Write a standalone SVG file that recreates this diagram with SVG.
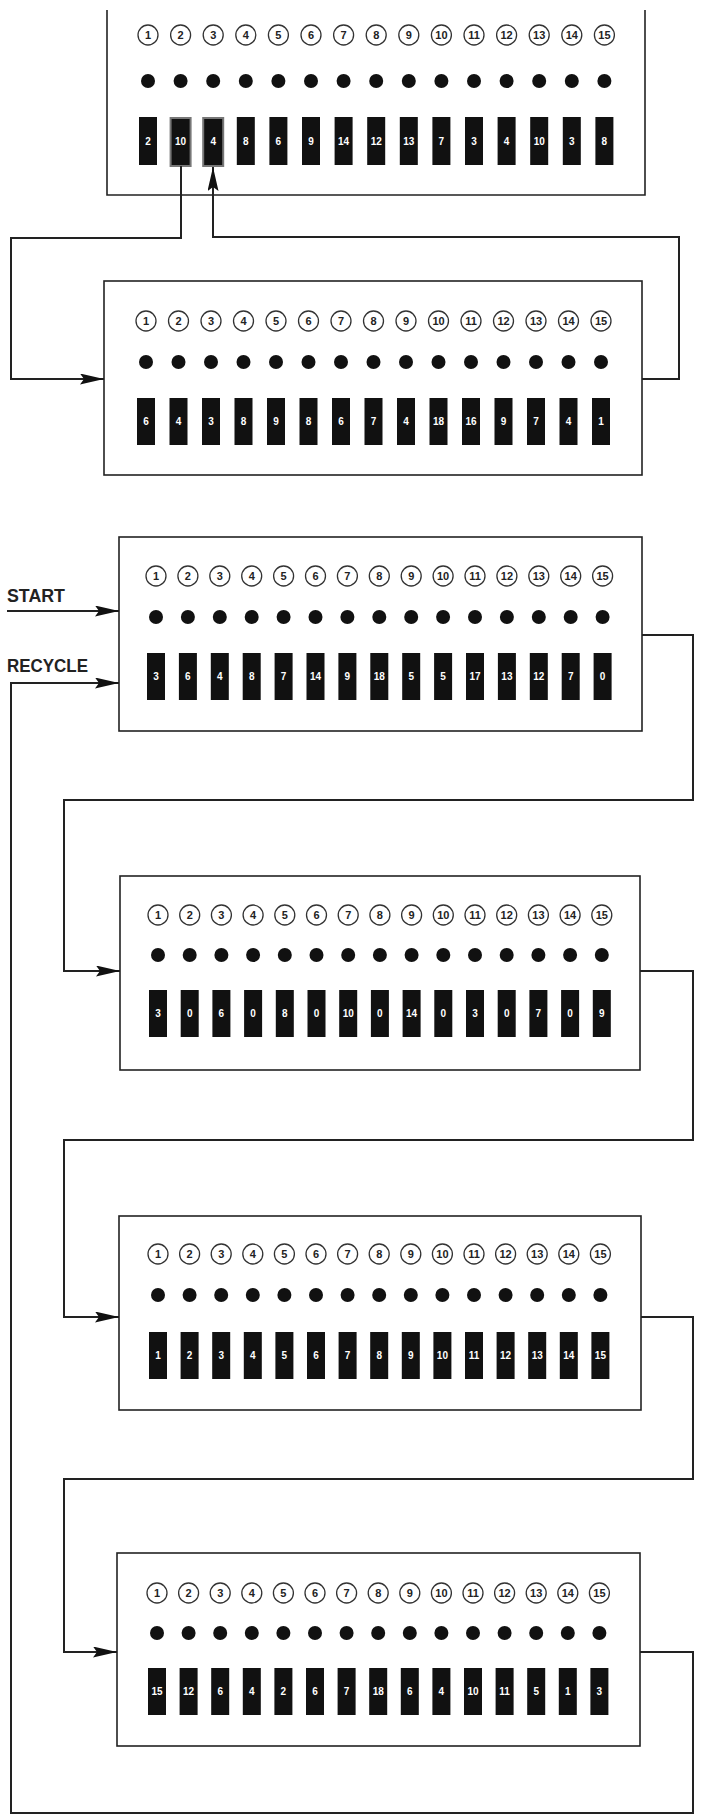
<svg xmlns="http://www.w3.org/2000/svg" width="701" height="1815" viewBox="0 0 701 1815">
<style>
.box{fill:#fff;stroke:#222;stroke-width:1.6}
.open{fill:none;stroke:#222;stroke-width:1.6}
.c{fill:#fff;stroke:#333;stroke-width:1.3}
.d{fill:#111}
.k{fill:#111}
.hl{fill:#111;stroke:#777;stroke-width:2}
.n{font-family:"Liberation Sans Narrow","Liberation Sans",sans-serif;font-size:11px;font-weight:bold;fill:#222;text-anchor:middle}
.v{font-family:"Liberation Sans Narrow","Liberation Sans",sans-serif;font-size:10px;font-weight:bold;fill:#fff;text-anchor:middle}
.lbl{font-family:"Liberation Sans",sans-serif;font-size:18px;font-weight:bold;fill:#222}
.w{fill:none;stroke:#222;stroke-width:2}
</style>
<defs>
<marker id="ah" markerUnits="userSpaceOnUse" markerWidth="24" markerHeight="11" refX="24" refY="5.5" orient="auto">
<path d="M0,0 L24,5.5 L0,11 L4,5.5 z" fill="#111"/>
</marker>
</defs>
<rect width="701" height="1815" fill="#fff"/>

<g id="labels">
<text class="lbl" x="7" y="602" textLength="58" lengthAdjust="spacingAndGlyphs">START</text>
<text class="lbl" x="7" y="672" textLength="81" lengthAdjust="spacingAndGlyphs">RECYCLE</text>
</g>

<g id="node1">
<path class="open" d="M107,10 V195 H645 V10"/>
<g transform="translate(148 0)"><circle class="c" cy="35" r="10"/><text class="n" y="39">1</text><circle class="d" cy="81" r="7"/><rect class="k" x="-9" y="117" width="18" height="48"/><text class="v" y="145">2</text></g>
<g transform="translate(180.6 0)"><circle class="c" cy="35" r="10"/><text class="n" y="39">2</text><circle class="d" cy="81" r="7"/><rect class="hl" x="-10" y="118" width="20" height="48"/><text class="v" y="145">10</text></g>
<g transform="translate(213.2 0)"><circle class="c" cy="35" r="10"/><text class="n" y="39">3</text><circle class="d" cy="81" r="7"/><rect class="hl" x="-10" y="118" width="20" height="48"/><text class="v" y="145">4</text></g>
<g transform="translate(245.8 0)"><circle class="c" cy="35" r="10"/><text class="n" y="39">4</text><circle class="d" cy="81" r="7"/><rect class="k" x="-9" y="117" width="18" height="48"/><text class="v" y="145">8</text></g>
<g transform="translate(278.4 0)"><circle class="c" cy="35" r="10"/><text class="n" y="39">5</text><circle class="d" cy="81" r="7"/><rect class="k" x="-9" y="117" width="18" height="48"/><text class="v" y="145">6</text></g>
<g transform="translate(311 0)"><circle class="c" cy="35" r="10"/><text class="n" y="39">6</text><circle class="d" cy="81" r="7"/><rect class="k" x="-9" y="117" width="18" height="48"/><text class="v" y="145">9</text></g>
<g transform="translate(343.6 0)"><circle class="c" cy="35" r="10"/><text class="n" y="39">7</text><circle class="d" cy="81" r="7"/><rect class="k" x="-9" y="117" width="18" height="48"/><text class="v" y="145">14</text></g>
<g transform="translate(376.2 0)"><circle class="c" cy="35" r="10"/><text class="n" y="39">8</text><circle class="d" cy="81" r="7"/><rect class="k" x="-9" y="117" width="18" height="48"/><text class="v" y="145">12</text></g>
<g transform="translate(408.8 0)"><circle class="c" cy="35" r="10"/><text class="n" y="39">9</text><circle class="d" cy="81" r="7"/><rect class="k" x="-9" y="117" width="18" height="48"/><text class="v" y="145">13</text></g>
<g transform="translate(441.4 0)"><circle class="c" cy="35" r="10"/><text class="n" y="39">10</text><circle class="d" cy="81" r="7"/><rect class="k" x="-9" y="117" width="18" height="48"/><text class="v" y="145">7</text></g>
<g transform="translate(474 0)"><circle class="c" cy="35" r="10"/><text class="n" y="39">11</text><circle class="d" cy="81" r="7"/><rect class="k" x="-9" y="117" width="18" height="48"/><text class="v" y="145">3</text></g>
<g transform="translate(506.6 0)"><circle class="c" cy="35" r="10"/><text class="n" y="39">12</text><circle class="d" cy="81" r="7"/><rect class="k" x="-9" y="117" width="18" height="48"/><text class="v" y="145">4</text></g>
<g transform="translate(539.2 0)"><circle class="c" cy="35" r="10"/><text class="n" y="39">13</text><circle class="d" cy="81" r="7"/><rect class="k" x="-9" y="117" width="18" height="48"/><text class="v" y="145">10</text></g>
<g transform="translate(571.8 0)"><circle class="c" cy="35" r="10"/><text class="n" y="39">14</text><circle class="d" cy="81" r="7"/><rect class="k" x="-9" y="117" width="18" height="48"/><text class="v" y="145">3</text></g>
<g transform="translate(604.4 0)"><circle class="c" cy="35" r="10"/><text class="n" y="39">15</text><circle class="d" cy="81" r="7"/><rect class="k" x="-9" y="117" width="18" height="48"/><text class="v" y="145">8</text></g>
</g>

<g id="node2">
<rect class="box" x="104" y="281" width="538" height="194"/>
<g transform="translate(146 0)"><circle class="c" cy="321" r="10"/><text class="n" y="325">1</text><circle class="d" cy="362" r="7"/><rect class="k" x="-9" y="398" width="18" height="47"/><text class="v" y="425">6</text></g>
<g transform="translate(178.5 0)"><circle class="c" cy="321" r="10"/><text class="n" y="325">2</text><circle class="d" cy="362" r="7"/><rect class="k" x="-9" y="398" width="18" height="47"/><text class="v" y="425">4</text></g>
<g transform="translate(211 0)"><circle class="c" cy="321" r="10"/><text class="n" y="325">3</text><circle class="d" cy="362" r="7"/><rect class="k" x="-9" y="398" width="18" height="47"/><text class="v" y="425">3</text></g>
<g transform="translate(243.5 0)"><circle class="c" cy="321" r="10"/><text class="n" y="325">4</text><circle class="d" cy="362" r="7"/><rect class="k" x="-9" y="398" width="18" height="47"/><text class="v" y="425">8</text></g>
<g transform="translate(276 0)"><circle class="c" cy="321" r="10"/><text class="n" y="325">5</text><circle class="d" cy="362" r="7"/><rect class="k" x="-9" y="398" width="18" height="47"/><text class="v" y="425">9</text></g>
<g transform="translate(308.5 0)"><circle class="c" cy="321" r="10"/><text class="n" y="325">6</text><circle class="d" cy="362" r="7"/><rect class="k" x="-9" y="398" width="18" height="47"/><text class="v" y="425">8</text></g>
<g transform="translate(341 0)"><circle class="c" cy="321" r="10"/><text class="n" y="325">7</text><circle class="d" cy="362" r="7"/><rect class="k" x="-9" y="398" width="18" height="47"/><text class="v" y="425">6</text></g>
<g transform="translate(373.5 0)"><circle class="c" cy="321" r="10"/><text class="n" y="325">8</text><circle class="d" cy="362" r="7"/><rect class="k" x="-9" y="398" width="18" height="47"/><text class="v" y="425">7</text></g>
<g transform="translate(406 0)"><circle class="c" cy="321" r="10"/><text class="n" y="325">9</text><circle class="d" cy="362" r="7"/><rect class="k" x="-9" y="398" width="18" height="47"/><text class="v" y="425">4</text></g>
<g transform="translate(438.5 0)"><circle class="c" cy="321" r="10"/><text class="n" y="325">10</text><circle class="d" cy="362" r="7"/><rect class="k" x="-9" y="398" width="18" height="47"/><text class="v" y="425">18</text></g>
<g transform="translate(471 0)"><circle class="c" cy="321" r="10"/><text class="n" y="325">11</text><circle class="d" cy="362" r="7"/><rect class="k" x="-9" y="398" width="18" height="47"/><text class="v" y="425">16</text></g>
<g transform="translate(503.5 0)"><circle class="c" cy="321" r="10"/><text class="n" y="325">12</text><circle class="d" cy="362" r="7"/><rect class="k" x="-9" y="398" width="18" height="47"/><text class="v" y="425">9</text></g>
<g transform="translate(536 0)"><circle class="c" cy="321" r="10"/><text class="n" y="325">13</text><circle class="d" cy="362" r="7"/><rect class="k" x="-9" y="398" width="18" height="47"/><text class="v" y="425">7</text></g>
<g transform="translate(568.5 0)"><circle class="c" cy="321" r="10"/><text class="n" y="325">14</text><circle class="d" cy="362" r="7"/><rect class="k" x="-9" y="398" width="18" height="47"/><text class="v" y="425">4</text></g>
<g transform="translate(601 0)"><circle class="c" cy="321" r="10"/><text class="n" y="325">15</text><circle class="d" cy="362" r="7"/><rect class="k" x="-9" y="398" width="18" height="47"/><text class="v" y="425">1</text></g>
</g>

<g id="node3">
<rect class="box" x="119" y="537" width="523" height="194"/>
<g transform="translate(156 0)"><circle class="c" cy="576" r="10"/><text class="n" y="580">1</text><circle class="d" cy="617" r="7"/><rect class="k" x="-9" y="653" width="18" height="47"/><text class="v" y="680">3</text></g>
<g transform="translate(187.9 0)"><circle class="c" cy="576" r="10"/><text class="n" y="580">2</text><circle class="d" cy="617" r="7"/><rect class="k" x="-9" y="653" width="18" height="47"/><text class="v" y="680">6</text></g>
<g transform="translate(219.8 0)"><circle class="c" cy="576" r="10"/><text class="n" y="580">3</text><circle class="d" cy="617" r="7"/><rect class="k" x="-9" y="653" width="18" height="47"/><text class="v" y="680">4</text></g>
<g transform="translate(251.7 0)"><circle class="c" cy="576" r="10"/><text class="n" y="580">4</text><circle class="d" cy="617" r="7"/><rect class="k" x="-9" y="653" width="18" height="47"/><text class="v" y="680">8</text></g>
<g transform="translate(283.6 0)"><circle class="c" cy="576" r="10"/><text class="n" y="580">5</text><circle class="d" cy="617" r="7"/><rect class="k" x="-9" y="653" width="18" height="47"/><text class="v" y="680">7</text></g>
<g transform="translate(315.5 0)"><circle class="c" cy="576" r="10"/><text class="n" y="580">6</text><circle class="d" cy="617" r="7"/><rect class="k" x="-9" y="653" width="18" height="47"/><text class="v" y="680">14</text></g>
<g transform="translate(347.4 0)"><circle class="c" cy="576" r="10"/><text class="n" y="580">7</text><circle class="d" cy="617" r="7"/><rect class="k" x="-9" y="653" width="18" height="47"/><text class="v" y="680">9</text></g>
<g transform="translate(379.3 0)"><circle class="c" cy="576" r="10"/><text class="n" y="580">8</text><circle class="d" cy="617" r="7"/><rect class="k" x="-9" y="653" width="18" height="47"/><text class="v" y="680">18</text></g>
<g transform="translate(411.2 0)"><circle class="c" cy="576" r="10"/><text class="n" y="580">9</text><circle class="d" cy="617" r="7"/><rect class="k" x="-9" y="653" width="18" height="47"/><text class="v" y="680">5</text></g>
<g transform="translate(443.1 0)"><circle class="c" cy="576" r="10"/><text class="n" y="580">10</text><circle class="d" cy="617" r="7"/><rect class="k" x="-9" y="653" width="18" height="47"/><text class="v" y="680">5</text></g>
<g transform="translate(475 0)"><circle class="c" cy="576" r="10"/><text class="n" y="580">11</text><circle class="d" cy="617" r="7"/><rect class="k" x="-9" y="653" width="18" height="47"/><text class="v" y="680">17</text></g>
<g transform="translate(506.9 0)"><circle class="c" cy="576" r="10"/><text class="n" y="580">12</text><circle class="d" cy="617" r="7"/><rect class="k" x="-9" y="653" width="18" height="47"/><text class="v" y="680">13</text></g>
<g transform="translate(538.8 0)"><circle class="c" cy="576" r="10"/><text class="n" y="580">13</text><circle class="d" cy="617" r="7"/><rect class="k" x="-9" y="653" width="18" height="47"/><text class="v" y="680">12</text></g>
<g transform="translate(570.7 0)"><circle class="c" cy="576" r="10"/><text class="n" y="580">14</text><circle class="d" cy="617" r="7"/><rect class="k" x="-9" y="653" width="18" height="47"/><text class="v" y="680">7</text></g>
<g transform="translate(602.6 0)"><circle class="c" cy="576" r="10"/><text class="n" y="580">15</text><circle class="d" cy="617" r="7"/><rect class="k" x="-9" y="653" width="18" height="47"/><text class="v" y="680">0</text></g>
</g>

<g id="node4">
<rect class="box" x="120" y="876" width="520" height="194"/>
<g transform="translate(158 0)"><circle class="c" cy="915" r="10"/><text class="n" y="919">1</text><circle class="d" cy="955" r="7"/><rect class="k" x="-9" y="990" width="18" height="47"/><text class="v" y="1017">3</text></g>
<g transform="translate(189.7 0)"><circle class="c" cy="915" r="10"/><text class="n" y="919">2</text><circle class="d" cy="955" r="7"/><rect class="k" x="-9" y="990" width="18" height="47"/><text class="v" y="1017">0</text></g>
<g transform="translate(221.4 0)"><circle class="c" cy="915" r="10"/><text class="n" y="919">3</text><circle class="d" cy="955" r="7"/><rect class="k" x="-9" y="990" width="18" height="47"/><text class="v" y="1017">6</text></g>
<g transform="translate(253.1 0)"><circle class="c" cy="915" r="10"/><text class="n" y="919">4</text><circle class="d" cy="955" r="7"/><rect class="k" x="-9" y="990" width="18" height="47"/><text class="v" y="1017">0</text></g>
<g transform="translate(284.8 0)"><circle class="c" cy="915" r="10"/><text class="n" y="919">5</text><circle class="d" cy="955" r="7"/><rect class="k" x="-9" y="990" width="18" height="47"/><text class="v" y="1017">8</text></g>
<g transform="translate(316.5 0)"><circle class="c" cy="915" r="10"/><text class="n" y="919">6</text><circle class="d" cy="955" r="7"/><rect class="k" x="-9" y="990" width="18" height="47"/><text class="v" y="1017">0</text></g>
<g transform="translate(348.2 0)"><circle class="c" cy="915" r="10"/><text class="n" y="919">7</text><circle class="d" cy="955" r="7"/><rect class="k" x="-9" y="990" width="18" height="47"/><text class="v" y="1017">10</text></g>
<g transform="translate(379.9 0)"><circle class="c" cy="915" r="10"/><text class="n" y="919">8</text><circle class="d" cy="955" r="7"/><rect class="k" x="-9" y="990" width="18" height="47"/><text class="v" y="1017">0</text></g>
<g transform="translate(411.6 0)"><circle class="c" cy="915" r="10"/><text class="n" y="919">9</text><circle class="d" cy="955" r="7"/><rect class="k" x="-9" y="990" width="18" height="47"/><text class="v" y="1017">14</text></g>
<g transform="translate(443.3 0)"><circle class="c" cy="915" r="10"/><text class="n" y="919">10</text><circle class="d" cy="955" r="7"/><rect class="k" x="-9" y="990" width="18" height="47"/><text class="v" y="1017">0</text></g>
<g transform="translate(475 0)"><circle class="c" cy="915" r="10"/><text class="n" y="919">11</text><circle class="d" cy="955" r="7"/><rect class="k" x="-9" y="990" width="18" height="47"/><text class="v" y="1017">3</text></g>
<g transform="translate(506.7 0)"><circle class="c" cy="915" r="10"/><text class="n" y="919">12</text><circle class="d" cy="955" r="7"/><rect class="k" x="-9" y="990" width="18" height="47"/><text class="v" y="1017">0</text></g>
<g transform="translate(538.4 0)"><circle class="c" cy="915" r="10"/><text class="n" y="919">13</text><circle class="d" cy="955" r="7"/><rect class="k" x="-9" y="990" width="18" height="47"/><text class="v" y="1017">7</text></g>
<g transform="translate(570.1 0)"><circle class="c" cy="915" r="10"/><text class="n" y="919">14</text><circle class="d" cy="955" r="7"/><rect class="k" x="-9" y="990" width="18" height="47"/><text class="v" y="1017">0</text></g>
<g transform="translate(601.8 0)"><circle class="c" cy="915" r="10"/><text class="n" y="919">15</text><circle class="d" cy="955" r="7"/><rect class="k" x="-9" y="990" width="18" height="47"/><text class="v" y="1017">9</text></g>
</g>

<g id="node5">
<rect class="box" x="119" y="1216" width="522" height="194"/>
<g transform="translate(158 0)"><circle class="c" cy="1254" r="10"/><text class="n" y="1258">1</text><circle class="d" cy="1295" r="7"/><rect class="k" x="-9" y="1332" width="18" height="47"/><text class="v" y="1359">1</text></g>
<g transform="translate(189.6 0)"><circle class="c" cy="1254" r="10"/><text class="n" y="1258">2</text><circle class="d" cy="1295" r="7"/><rect class="k" x="-9" y="1332" width="18" height="47"/><text class="v" y="1359">2</text></g>
<g transform="translate(221.2 0)"><circle class="c" cy="1254" r="10"/><text class="n" y="1258">3</text><circle class="d" cy="1295" r="7"/><rect class="k" x="-9" y="1332" width="18" height="47"/><text class="v" y="1359">3</text></g>
<g transform="translate(252.8 0)"><circle class="c" cy="1254" r="10"/><text class="n" y="1258">4</text><circle class="d" cy="1295" r="7"/><rect class="k" x="-9" y="1332" width="18" height="47"/><text class="v" y="1359">4</text></g>
<g transform="translate(284.4 0)"><circle class="c" cy="1254" r="10"/><text class="n" y="1258">5</text><circle class="d" cy="1295" r="7"/><rect class="k" x="-9" y="1332" width="18" height="47"/><text class="v" y="1359">5</text></g>
<g transform="translate(316 0)"><circle class="c" cy="1254" r="10"/><text class="n" y="1258">6</text><circle class="d" cy="1295" r="7"/><rect class="k" x="-9" y="1332" width="18" height="47"/><text class="v" y="1359">6</text></g>
<g transform="translate(347.6 0)"><circle class="c" cy="1254" r="10"/><text class="n" y="1258">7</text><circle class="d" cy="1295" r="7"/><rect class="k" x="-9" y="1332" width="18" height="47"/><text class="v" y="1359">7</text></g>
<g transform="translate(379.2 0)"><circle class="c" cy="1254" r="10"/><text class="n" y="1258">8</text><circle class="d" cy="1295" r="7"/><rect class="k" x="-9" y="1332" width="18" height="47"/><text class="v" y="1359">8</text></g>
<g transform="translate(410.8 0)"><circle class="c" cy="1254" r="10"/><text class="n" y="1258">9</text><circle class="d" cy="1295" r="7"/><rect class="k" x="-9" y="1332" width="18" height="47"/><text class="v" y="1359">9</text></g>
<g transform="translate(442.4 0)"><circle class="c" cy="1254" r="10"/><text class="n" y="1258">10</text><circle class="d" cy="1295" r="7"/><rect class="k" x="-9" y="1332" width="18" height="47"/><text class="v" y="1359">10</text></g>
<g transform="translate(474 0)"><circle class="c" cy="1254" r="10"/><text class="n" y="1258">11</text><circle class="d" cy="1295" r="7"/><rect class="k" x="-9" y="1332" width="18" height="47"/><text class="v" y="1359">11</text></g>
<g transform="translate(505.6 0)"><circle class="c" cy="1254" r="10"/><text class="n" y="1258">12</text><circle class="d" cy="1295" r="7"/><rect class="k" x="-9" y="1332" width="18" height="47"/><text class="v" y="1359">12</text></g>
<g transform="translate(537.2 0)"><circle class="c" cy="1254" r="10"/><text class="n" y="1258">13</text><circle class="d" cy="1295" r="7"/><rect class="k" x="-9" y="1332" width="18" height="47"/><text class="v" y="1359">13</text></g>
<g transform="translate(568.8 0)"><circle class="c" cy="1254" r="10"/><text class="n" y="1258">14</text><circle class="d" cy="1295" r="7"/><rect class="k" x="-9" y="1332" width="18" height="47"/><text class="v" y="1359">14</text></g>
<g transform="translate(600.4 0)"><circle class="c" cy="1254" r="10"/><text class="n" y="1258">15</text><circle class="d" cy="1295" r="7"/><rect class="k" x="-9" y="1332" width="18" height="47"/><text class="v" y="1359">15</text></g>
</g>

<g id="node6">
<rect class="box" x="117" y="1553" width="523" height="193"/>
<g transform="translate(157 0)"><circle class="c" cy="1593" r="10"/><text class="n" y="1597">1</text><circle class="d" cy="1633" r="7"/><rect class="k" x="-9" y="1668" width="18" height="47"/><text class="v" y="1695">15</text></g>
<g transform="translate(188.6 0)"><circle class="c" cy="1593" r="10"/><text class="n" y="1597">2</text><circle class="d" cy="1633" r="7"/><rect class="k" x="-9" y="1668" width="18" height="47"/><text class="v" y="1695">12</text></g>
<g transform="translate(220.2 0)"><circle class="c" cy="1593" r="10"/><text class="n" y="1597">3</text><circle class="d" cy="1633" r="7"/><rect class="k" x="-9" y="1668" width="18" height="47"/><text class="v" y="1695">6</text></g>
<g transform="translate(251.8 0)"><circle class="c" cy="1593" r="10"/><text class="n" y="1597">4</text><circle class="d" cy="1633" r="7"/><rect class="k" x="-9" y="1668" width="18" height="47"/><text class="v" y="1695">4</text></g>
<g transform="translate(283.4 0)"><circle class="c" cy="1593" r="10"/><text class="n" y="1597">5</text><circle class="d" cy="1633" r="7"/><rect class="k" x="-9" y="1668" width="18" height="47"/><text class="v" y="1695">2</text></g>
<g transform="translate(315 0)"><circle class="c" cy="1593" r="10"/><text class="n" y="1597">6</text><circle class="d" cy="1633" r="7"/><rect class="k" x="-9" y="1668" width="18" height="47"/><text class="v" y="1695">6</text></g>
<g transform="translate(346.6 0)"><circle class="c" cy="1593" r="10"/><text class="n" y="1597">7</text><circle class="d" cy="1633" r="7"/><rect class="k" x="-9" y="1668" width="18" height="47"/><text class="v" y="1695">7</text></g>
<g transform="translate(378.2 0)"><circle class="c" cy="1593" r="10"/><text class="n" y="1597">8</text><circle class="d" cy="1633" r="7"/><rect class="k" x="-9" y="1668" width="18" height="47"/><text class="v" y="1695">18</text></g>
<g transform="translate(409.8 0)"><circle class="c" cy="1593" r="10"/><text class="n" y="1597">9</text><circle class="d" cy="1633" r="7"/><rect class="k" x="-9" y="1668" width="18" height="47"/><text class="v" y="1695">6</text></g>
<g transform="translate(441.4 0)"><circle class="c" cy="1593" r="10"/><text class="n" y="1597">10</text><circle class="d" cy="1633" r="7"/><rect class="k" x="-9" y="1668" width="18" height="47"/><text class="v" y="1695">4</text></g>
<g transform="translate(473 0)"><circle class="c" cy="1593" r="10"/><text class="n" y="1597">11</text><circle class="d" cy="1633" r="7"/><rect class="k" x="-9" y="1668" width="18" height="47"/><text class="v" y="1695">10</text></g>
<g transform="translate(504.6 0)"><circle class="c" cy="1593" r="10"/><text class="n" y="1597">12</text><circle class="d" cy="1633" r="7"/><rect class="k" x="-9" y="1668" width="18" height="47"/><text class="v" y="1695">11</text></g>
<g transform="translate(536.2 0)"><circle class="c" cy="1593" r="10"/><text class="n" y="1597">13</text><circle class="d" cy="1633" r="7"/><rect class="k" x="-9" y="1668" width="18" height="47"/><text class="v" y="1695">5</text></g>
<g transform="translate(567.8 0)"><circle class="c" cy="1593" r="10"/><text class="n" y="1597">14</text><circle class="d" cy="1633" r="7"/><rect class="k" x="-9" y="1668" width="18" height="47"/><text class="v" y="1695">1</text></g>
<g transform="translate(599.4 0)"><circle class="c" cy="1593" r="10"/><text class="n" y="1597">15</text><circle class="d" cy="1633" r="7"/><rect class="k" x="-9" y="1668" width="18" height="47"/><text class="v" y="1695">3</text></g>
</g>

<g id="connectors">
<path class="w" d="M181,166 V238 H11 V379 H104" marker-end="url(#ah)"/>
<path class="w" d="M642,379 H679 V237 H213 V167" marker-end="url(#ah)"/>
<path class="w" d="M7,611 H119" marker-end="url(#ah)"/>
<path class="w" d="M642,635 H693 V800 H64 V971 H120" marker-end="url(#ah)"/>
<path class="w" d="M640,971 H693 V1140 H64 V1317 H119" marker-end="url(#ah)"/>
<path class="w" d="M641,1317 H693 V1479 H64 V1652 H117" marker-end="url(#ah)"/>
<path class="w" d="M640,1652 H693 V1813 H11 V683 H119" marker-end="url(#ah)"/>
</g>
</svg>
